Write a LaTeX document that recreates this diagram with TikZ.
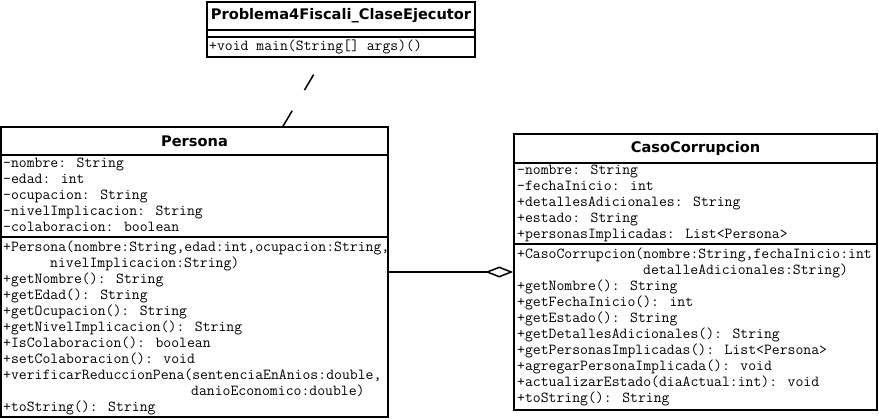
\documentclass[tikz,border=0pt]{standalone}
\usepackage{fontspec}
\newfontfamily\titlefont{DejaVu Sans}
\usetikzlibrary{arrows.meta}
\tikzset{
  classbox/.style={draw=black, line width=1.5pt, fill=white, inner sep=0pt},
  divider/.style={draw=black, line width=1.5pt},
  classtitle/.style={inner sep=0pt, font=\titlefont\bfseries\fontsize{14.6}{14.6}\selectfont},
  member/.style={inner sep=0pt, anchor=west, text height=10pt, text depth=3pt, font=\ttfamily\fontsize{15.3}{15.3}\selectfont},
  depline/.style={draw=black, line width=1.5pt, dash pattern=on 18pt off 24pt},
  aggline/.style={draw=black, line width=1.5pt, -{Diamond[open, length=28pt, width=11pt, line width=1.5pt]}}
}
\begin{document}
\begin{tikzpicture}[x=1pt, y=-1pt]
\useasboundingbox (0,0) rectangle (879,420);
% ---------- Problema4Fiscali_ClaseEjecutor ----------
\node[classbox, minimum width=268pt, minimum height=55pt] (ejec) at (341,29.5) {};
\draw[divider] (ejec.west |- 0,30) -- (ejec.east |- 0,30);
\draw[divider] (ejec.west |- 0,37) -- (ejec.east |- 0,37);
\node[classtitle] (ejecT) at (341,16) {Problema4Fiscali\_ClaseEjecutor};
\node[member] (ejecM1) at (209,47) {+void main(String[] args)()};
% ---------- Persona ----------
\node[classbox, minimum width=387pt, minimum height=290pt] (persona) at (194.5,272) {};
\draw[divider] (persona.west |- 0,155) -- (persona.east |- 0,155);
\draw[divider] (persona.west |- 0,237) -- (persona.east |- 0,237);
\node[classtitle] (personaT) at (194.5,141.5) {Persona};
\node[member] (pa1) at (3,164) {-nombre: String};
\node[member] (pa2) at (3,180) {-edad: int};
\node[member] (pa3) at (3,196) {-ocupacion: String};
\node[member] (pa4) at (3,212) {-nivelImplicacion: String};
\node[member] (pa5) at (3,228) {-colaboracion: boolean};
\node[member] (pm1) at (3,248) {+Persona(nombre:String,edad:int,ocupacion:String,};
\node[member] (pm1b) at (50,264) {nivelImplicacion:String)};
\node[member] (pm2) at (3,280) {+getNombre(): String};
\node[member] (pm3) at (3,296) {+getEdad(): String};
\node[member] (pm4) at (3,312) {+getOcupacion(): String};
\node[member] (pm5) at (3,328) {+getNivelImplicacion(): String};
\node[member] (pm6) at (3,344) {+IsColaboracion(): boolean};
\node[member] (pm7) at (3,360) {+setColaboracion(): void};
\node[member] (pm8) at (3,376) {+verificarReduccionPena(sentenciaEnAnios:double,};
\node[member] (pm8b) at (191,392) {danioEconomico:double)};
\node[member] (pm9) at (3,408) {+toString(): String};
% ---------- CasoCorrupcion ----------
\node[classbox, minimum width=363pt, minimum height=276pt] (caso) at (695.5,272) {};
\draw[divider] (caso.west |- 0,163) -- (caso.east |- 0,163);
\draw[divider] (caso.west |- 0,244) -- (caso.east |- 0,244);
\node[classtitle] (casoT) at (695.5,148.5) {CasoCorrupcion};
\node[member] (ca1) at (517,171) {-nombre: String};
\node[member] (ca2) at (517,187) {-fechaInicio: int};
\node[member] (ca3) at (517,203) {+detallesAdicionales: String};
\node[member] (ca4) at (517,219) {+estado: String};
\node[member] (ca5) at (517,235) {+personasImplicadas: List<Persona>};
\node[member] (cm1) at (517,255) {+CasoCorrupcion(nombre:String,fechaInicio:int};
\node[member] (cm1b) at (643,271) {detalleAdicionales:String)};
\node[member] (cm2) at (517,287) {+getNombre(): String};
\node[member] (cm3) at (517,303) {+getFechaInicio(): int};
\node[member] (cm4) at (517,319) {+getEstado(): String};
\node[member] (cm5) at (517,335) {+getDetallesAdicionales(): String};
\node[member] (cm6) at (517,351) {+getPersonasImplicadas(): List<Persona>};
\node[member] (cm7) at (517,367) {+agregarPersonaImplicada(): void};
\node[member] (cm8) at (517,383) {+actualizarEstado(diaActual:int): void};
\node[member] (cm9) at (517,399) {+toString(): String};
% ---------- connectors ----------
\coordinate (depX) at (283,0);
\coordinate (depEnd) at (314,74);
\draw[depline] (depX |- persona.north) -- (depEnd);
\draw[aggline] (persona.east) -- (caso.west);
\end{tikzpicture}
\end{document}
